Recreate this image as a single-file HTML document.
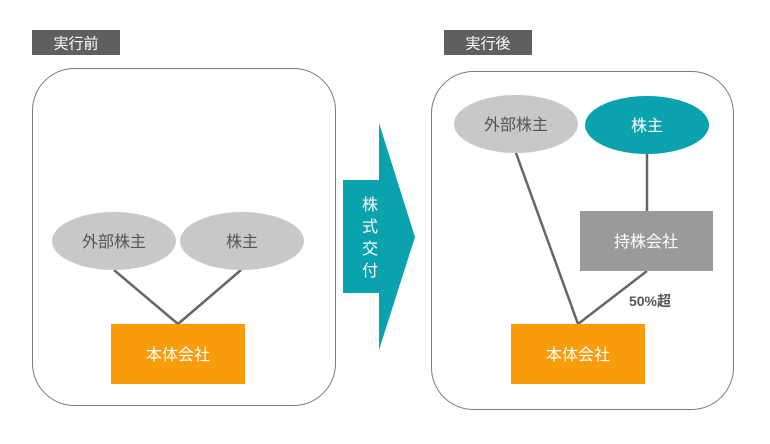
<!DOCTYPE html>
<html><head><meta charset="utf-8"><style>body{margin:0;background:#fff}</style></head><body>
<svg width="770" height="439" xmlns="http://www.w3.org/2000/svg" font-family="Liberation Sans, Noto Sans CJK JP, sans-serif">
<rect x="32" y="30" width="88" height="25" fill="#5f5f5f"/>
<text x="76" y="48.5" font-size="15" fill="#fff" text-anchor="middle">実行前</text>
<rect x="444" y="30" width="88" height="25" fill="#5f5f5f"/>
<text x="488" y="48.5" font-size="15" fill="#fff" text-anchor="middle">実行後</text>
<rect x="32.5" y="68.5" width="303" height="337" rx="42" fill="#fff" stroke="#7a7a7a"/>
<rect x="431.5" y="71.5" width="302" height="338" rx="42" fill="#fff" stroke="#7a7a7a"/>
<g stroke="#666" stroke-width="2.5">
<line x1="114" y1="270" x2="178" y2="324"/><line x1="241" y1="270" x2="178" y2="324"/>
<line x1="516" y1="153" x2="578" y2="324"/><line x1="647" y1="154" x2="647" y2="211"/><line x1="647" y1="271" x2="578" y2="324"/>
</g>
<ellipse cx="114" cy="241" rx="62" ry="29" fill="#c8c8c8"/>
<ellipse cx="242" cy="241" rx="62" ry="29" fill="#c8c8c8"/>
<text x="114" y="247" font-size="16" fill="#555" text-anchor="middle">外部株主</text>
<text x="242" y="247" font-size="16" fill="#555" text-anchor="middle">株主</text>
<rect x="111" y="324" width="134" height="60" fill="#f99c0c"/>
<text x="178" y="360" font-size="16" fill="#fff" text-anchor="middle">本体会社</text>
<path d="M343 180H379V123L415 237L379 350V293H343Z" fill="#0aa2ad"/>
<text font-size="16" fill="#fff" text-anchor="middle"><tspan x="370" y="210">株</tspan><tspan x="370" y="232">式</tspan><tspan x="370" y="254">交</tspan><tspan x="370" y="276">付</tspan></text>
<ellipse cx="516" cy="124" rx="62" ry="29" fill="#c8c8c8"/>
<text x="516" y="130" font-size="16" fill="#555" text-anchor="middle">外部株主</text>
<ellipse cx="647" cy="125" rx="62" ry="29" fill="#0aa2ad"/>
<text x="647" y="131" font-size="16" fill="#fff" text-anchor="middle">株主</text>
<rect x="580" y="211" width="133" height="60" fill="#9a9a9a"/>
<text x="646" y="247" font-size="16" fill="#fff" text-anchor="middle">持株会社</text>
<text x="650" y="306" font-size="14" font-weight="bold" fill="#555" text-anchor="middle">50%超</text>
<rect x="511" y="324" width="134" height="60" fill="#f99c0c"/>
<text x="578" y="360" font-size="16" fill="#fff" text-anchor="middle">本体会社</text>
</svg>
</body></html>
